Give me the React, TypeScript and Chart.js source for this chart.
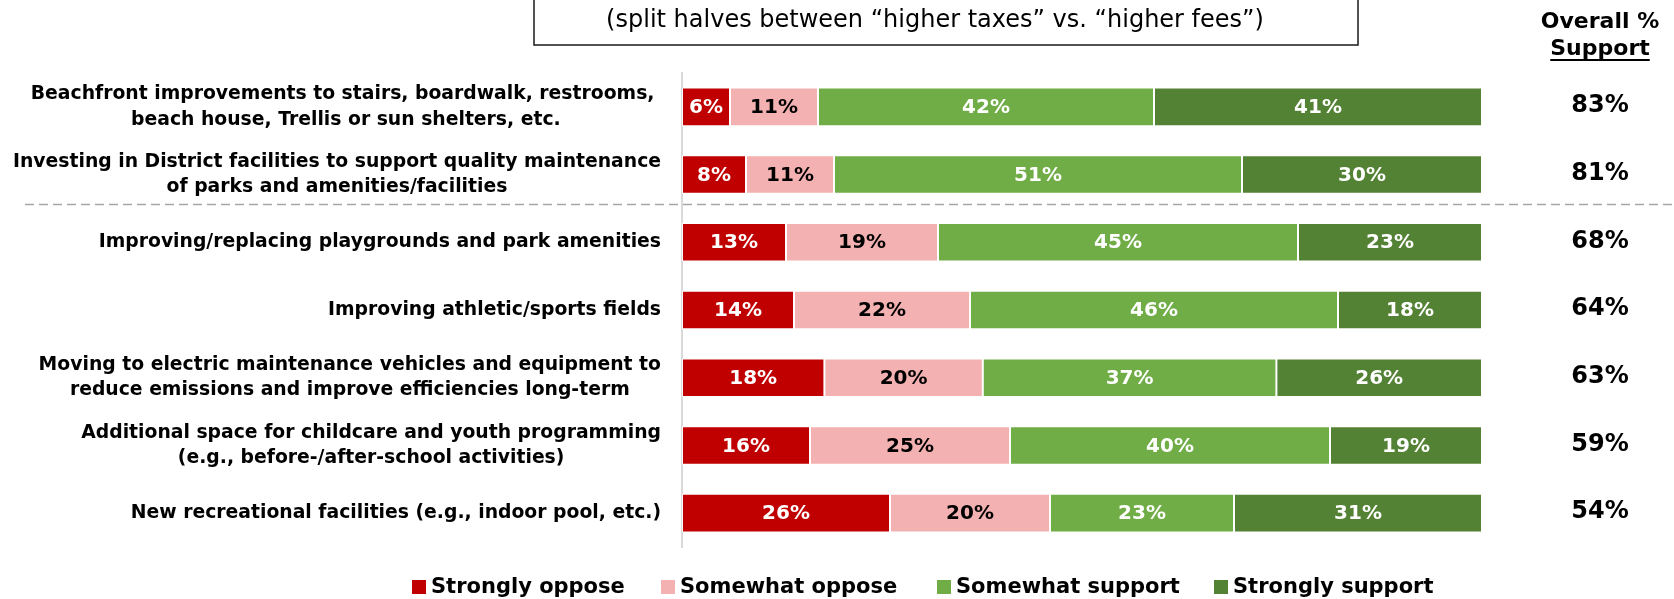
import React, { useEffect, useRef } from "react";
import { Chart, registerables } from "chart.js";

Chart.register(...registerables);

const categories: string[][] = [
  ["Beachfront improvements to stairs, boardwalk, restrooms, ", "beach house, Trellis or sun shelters, etc."],
  ["Investing in District facilities to support quality maintenance", "of parks and amenities/facilities"],
  ["Improving/replacing playgrounds and park amenities"],
  ["Improving athletic/sports fields"],
  ["Moving to electric maintenance vehicles and equipment to", "reduce emissions and improve efficiencies long-term"],
  ["Additional space for childcare and youth programming", "(e.g., before-/after-school activities)"],
  ["New recreational facilities (e.g., indoor pool, etc.)"],
];

const seriesNames = ["Strongly oppose", "Somewhat oppose", "Somewhat support", "Strongly support"];
const strongOppose = [6, 8, 13, 14, 17.8, 16, 26];
const somewhatOppose = [11, 11, 19, 22, 19.8, 25, 20];
const somewhatSupport = [42, 51, 45, 46, 36.7, 40, 23];
const strongSupport = [41, 30, 23, 18, 25.7, 19, 31];
const overallSupport = [83, 81, 68, 64, 63, 59, 54];

const subtitle = "(split halves between \u201Chigher taxes\u201D vs. \u201Chigher fees\u201D)";
const headerLines = ["Overall %", "Support"];

const colors = ["#C00000", "#F4B1B1", "#70AD47", "#548235"];
const labelColors = ["#FFFFFF", "#000000", "#FFFFFF", "#FFFFFF"];

const FONT = "'DejaVu Sans', 'Verdana', sans-serif";

const W = 1674;
const H = 599;

const overlayPlugin = {
  id: "overlay",
  afterDatasetsDraw(chart: any) {
    const ctx = chart.ctx as CanvasRenderingContext2D;
    ctx.save();
    ctx.font = `bold 20px ${FONT}`;
    ctx.textAlign = "center";
    ctx.textBaseline = "middle";
    chart.data.datasets.forEach((ds: any, di: number) => {
      const meta = chart.getDatasetMeta(di);
      meta.data.forEach((el: any, i: number) => {
        const v = ds.data[i] as number;
        const x = (el.x + el.base) / 2;
        ctx.fillStyle = labelColors[di];
        ctx.fillText(`${Math.round(v)}%`, x, el.y + 1);
      });
    });
    ctx.restore();
  },
  afterDraw(chart: any) {
    const ctx = chart.ctx as CanvasRenderingContext2D;
    const yScale = chart.scales.y;
    ctx.save();

    // Title box (top part is cut off in the reference)
    ctx.strokeStyle = "#1a1a1a";
    ctx.lineWidth = 1.5;
    ctx.strokeRect(534, -10, 824, 55);
    ctx.fillStyle = "#000";
    ctx.font = `24px ${FONT}`;
    ctx.textAlign = "center";
    ctx.textBaseline = "middle";
    ctx.fillText(subtitle, 935, 21);

    // Header
    ctx.font = `bold 22px ${FONT}`;
    ctx.fillText(headerLines[0], 1600, 22);
    ctx.fillText(headerLines[1], 1600, 49);
    const sw = ctx.measureText(headerLines[1]).width;
    ctx.fillRect(1600 - sw / 2, 59, sw, 2);

    // Category labels
    ctx.font = `bold 18.8px ${FONT}`;
    const rightEdge = 661;
    const lineH = 25.6;
    categories.forEach((lines, i) => {
      const yc = yScale.getPixelForValue(i);
      const w = Math.max(...lines.map((l) => ctx.measureText(l).width));
      const cx = rightEdge - w / 2;
      const y0 = yc - ((lines.length - 1) * lineH) / 2;
      lines.forEach((l, j) => ctx.fillText(l.trim(), cx + (l.endsWith(" ") ? -ctx.measureText(" ").width / 2 : 0), y0 + j * lineH));
    });

    // Overall support values
    ctx.font = `bold 24px ${FONT}`;
    overallSupport.forEach((v, i) => {
      const yc = yScale.getPixelForValue(i);
      ctx.fillText(`${v}%`, 1600, yc - 1);
    });

    // Dashed separator between 2nd and 3rd items
    const ySep = (yScale.getPixelForValue(1) + yScale.getPixelForValue(2)) / 2 - 4;
    ctx.strokeStyle = "#A6A6A6";
    ctx.lineWidth = 1.5;
    ctx.setLineDash([9, 5]);
    ctx.beginPath();
    ctx.moveTo(25, ySep);
    ctx.lineTo(W, ySep);
    ctx.stroke();
    ctx.setLineDash([]);

    // Legend
    ctx.font = `bold 21px ${FONT}`;
    ctx.textAlign = "left";
    const legendX = [412, 661, 937, 1214];
    const ly = 587;
    seriesNames.forEach((name, i) => {
      ctx.fillStyle = colors[i];
      ctx.fillRect(legendX[i], ly - 7, 14, 14);
      ctx.fillStyle = "#000";
      ctx.fillText(name, legendX[i] + 19, ly + 1);
    });

    ctx.restore();
  },
};

export default function App() {
  const canvasRef = useRef<HTMLCanvasElement | null>(null);

  useEffect(() => {
    if (!canvasRef.current) return;
    Chart.defaults.font.family = FONT;
    const chart = new Chart(canvasRef.current, {
      type: "bar",
      data: {
        labels: categories.map((c) => c.join(" ")),
        datasets: [strongOppose, somewhatOppose, somewhatSupport, strongSupport].map((d, i) => ({
          label: seriesNames[i],
          data: d,
          backgroundColor: colors[i],
          borderColor: "#FFFFFF",
          borderWidth: 1,
          borderSkipped: false,
          barPercentage: 0.57,
          categoryPercentage: 1,
        })),
      },
      options: {
        indexAxis: "y",
        responsive: false,
        animation: false,
        layout: { padding: { left: 682, right: 192, top: 73, bottom: 52 } },
        plugins: {
          legend: { display: false },
          tooltip: { enabled: false },
          title: { display: false },
        },
        scales: {
          x: { stacked: true, display: false, min: 0, max: 100 },
          y: {
            stacked: true,
            display: true,
            grid: { display: false, drawTicks: false },
            ticks: { display: false },
            border: { display: true, color: "#D9D9D9", width: 2 },
          },
        },
      },
      plugins: [overlayPlugin],
    });
    return () => chart.destroy();
  }, []);

  return (
    <div style={{ position: "absolute", left: 0, top: 0, width: W, height: H, background: "#fff" }}>
      <canvas ref={canvasRef} width={W} height={H} style={{ display: "block", width: W, height: H }} />
    </div>
  );
}
